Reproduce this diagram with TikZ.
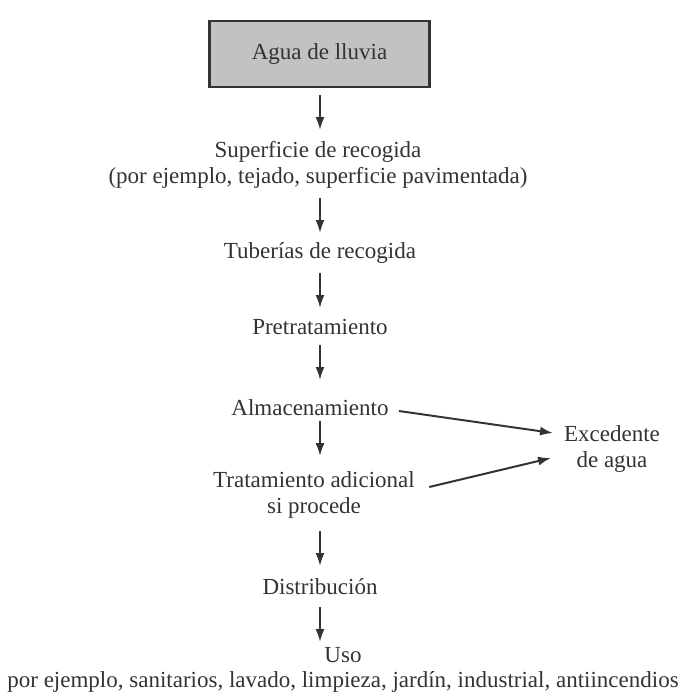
\documentclass[tikz,border=0pt]{standalone}
\usepackage{fontspec}
\setmainfont{Liberation Serif}
\usetikzlibrary{arrows.meta}
\definecolor{boxgray}{HTML}{C2C2C2}
\definecolor{inkgray}{HTML}{333333}
\tikzset{
  flow/.style={-{Latex[length=6.5pt,width=4.5pt]},line width=1pt,draw=inkgray},
  txt/.style={text=inkgray,font=\fontsize{11.5}{13}\selectfont,align=center,inner sep=1pt},
  srcbox/.style={txt,draw=inkgray,fill=boxgray,line width=1.2pt,minimum width=110pt,minimum height=33pt}
}
\begin{document}
\begin{tikzpicture}[x=0.5pt,y=-0.5pt]
      \useasboundingbox (0,0) rectangle (686,693);
      \node[srcbox] (lluvia) at (319.5,54) {Agua de lluvia};
      \node[txt] (sup) at (318,165) {Superficie de recogida\\(por ejemplo, tejado, superficie pavimentada)};
      \node[txt] (tub) at (320,253) {Tuberías de recogida};
      \node[txt] (pre) at (320,327) {Pretratamiento};
      \node[txt] (alm) at (310,408) {Almacenamiento};
      \node[txt] (tra) at (314,495) {Tratamiento adicional\\si procede};
      \node[txt] (dis) at (320,587) {Distribución};
      \node[txt,font=\fontsize{11.5}{12.2}\selectfont] (uso) at (343,670) {Uso\\por ejemplo, sanitarios, lavado, limpieza, jardín, industrial, antiincendios};
      \node[txt] (exc) at (612,449) {Excedente\\de agua};
      \coordinate (a1) at (320,95);  \coordinate (b1) at (320,130);
      \coordinate (a2) at (320,198); \coordinate (b2) at (320,233);
      \coordinate (a3) at (320,273); \coordinate (b3) at (320,308);
      \coordinate (a4) at (320,345); \coordinate (b4) at (320,380);
      \coordinate (a5) at (320,421); \coordinate (b5) at (320,456);
      \coordinate (a6) at (320,531); \coordinate (b6) at (320,566);
      \coordinate (a7) at (320,607); \coordinate (b7) at (320,642);
      \coordinate (e1) at (553,433); \coordinate (e2) at (551,458);
      \begin{scope}[flow]
        \draw (a1) to (b1);
        \draw (a2) to (b2);
        \draw (a3) to (b3);
        \draw (a4) to (b4);
        \draw (a5) to (b5);
        \draw (a6) to (b6);
        \draw (a7) to (b7);
        \draw ([shift={(8,3)}]alm.east) to (e1);
        \draw ([shift={(12,-8)}]tra.east) to (e2);
      \end{scope}
    \end{tikzpicture}
\end{document}
